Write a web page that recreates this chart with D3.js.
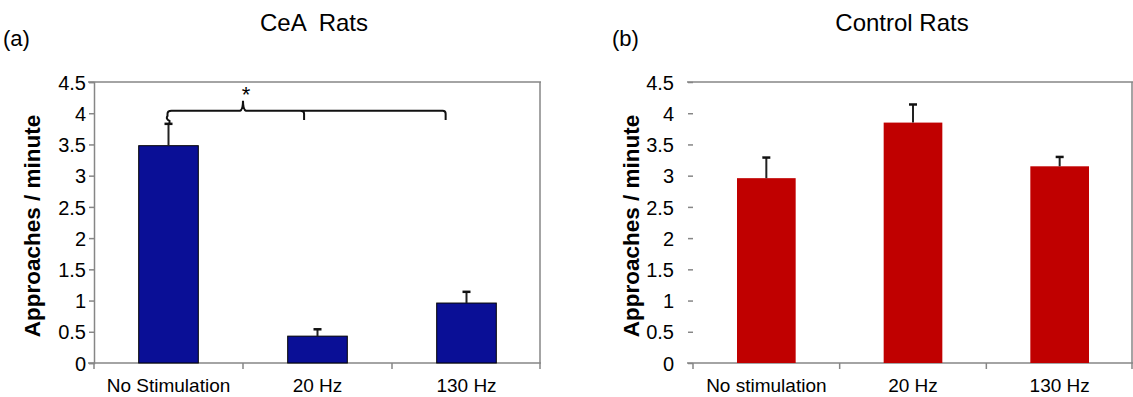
<!DOCTYPE html>
<html>
<head>
<meta charset="utf-8">
<script src="https://cdn.jsdelivr.net/npm/d3@7"></script>
<style>
  body { margin: 0; background: #fff; }
  svg { display: block; font-family: "Liberation Sans", Arial, sans-serif; }
</style>
</head>
<body>
<svg id="chart" width="1133" height="397"></svg>
<script>
// data
const ceaCategories = ["No Stimulation", "20 Hz", "130 Hz"];
const ceaMeans = [3.48, 0.43, 0.96];
const ceaErrors = [0.35, 0.11, 0.18];

const controlCategories = ["No stimulation", "20 Hz", "130 Hz"];
const controlMeans = [2.96, 3.85, 3.15];
const controlErrors = [0.33, 0.29, 0.15];

const yTicks = [0, 0.5, 1, 1.5, 2, 2.5, 3, 3.5, 4, 4.5];

const AXIS_GREY = "#868686";
const SVG = d3.select("#chart");

function drawPanel(opts) {
    const { cats, means, errs, color, outline, x0, x1, showYLine, title, titleX, tag, tagX, yTitleX, tickLabelX } = opts;
    const top = 82, bottom = 363;

    const x = d3.scaleBand().domain(cats).range([x0, x1]).padding(0);
    const y = d3.scaleLinear().domain([0, 4.5]).range([bottom, top]);
    const barW = x.bandwidth() * 0.4;

    const g = SVG.append("g");

    // frame: top border + right border
    g.append("line").attr("x1", x0 - 6).attr("x2", x1).attr("y1", top).attr("y2", top)
        .attr("stroke", AXIS_GREY).attr("stroke-width", 1.5);
    g.append("line").attr("x1", x1 - 1).attr("x2", x1 - 1).attr("y1", top).attr("y2", bottom + 6)
        .attr("stroke", AXIS_GREY).attr("stroke-width", 1.5);

    // y axis
    const yAxis = d3.axisLeft(y).tickValues(yTicks).tickSize(5).tickFormat(d => d);
    const ya = g.append("g").attr("transform", `translate(${x0},0)`).call(yAxis);
    ya.select(".domain").attr("stroke", showYLine ? AXIS_GREY : "none").attr("stroke-width", 1.5);
    ya.selectAll(".tick line").attr("stroke", AXIS_GREY).attr("stroke-width", 1.5);
    ya.selectAll(".tick text")
        .attr("x", tickLabelX - x0)
        .attr("dy", "0.36em")
        .attr("fill", "#000")
        .style("font-size", "20px")
        .style("font-family", "Liberation Sans, Arial, sans-serif");

    // x axis
    const xa = g.append("g").attr("transform", `translate(0,${bottom})`)
        .call(d3.axisBottom(x).tickSize(0).tickPadding(16));
    xa.select(".domain").attr("stroke", AXIS_GREY).attr("stroke-width", 1.5)
        .attr("d", `M${x0 - 6},0H${x1}`);
    xa.selectAll(".tick text")
        .attr("fill", "#000")
        .style("font-size", "19px")
        .style("font-family", "Liberation Sans, Arial, sans-serif");
    // category boundary ticks
    g.selectAll(".bound")
        .data(cats)
        .join("line")
        .attr("x1", d => x(d)).attr("x2", d => x(d))
        .attr("y1", bottom).attr("y2", bottom + 6)
        .attr("stroke", AXIS_GREY).attr("stroke-width", 1.5);

    // bars
    g.selectAll(".bar")
        .data(means)
        .join("rect")
        .attr("x", (d, i) => x(cats[i]) + x.bandwidth() / 2 - barW / 2)
        .attr("y", d => y(d))
        .attr("width", barW)
        .attr("height", d => y(0) - y(d))
        .attr("fill", color)
        .attr("stroke", outline)
        .attr("stroke-width", outline === "none" ? 0 : 1);

    // error bars (upper only)
    const err = g.selectAll(".err")
        .data(means.map((m, i) => ({ cat: cats[i], m, e: errs[i] })))
        .join("g");
    err.append("line")
        .attr("x1", d => x(d.cat) + x.bandwidth() / 2)
        .attr("x2", d => x(d.cat) + x.bandwidth() / 2)
        .attr("y1", d => y(d.m))
        .attr("y2", d => y(d.m + d.e))
        .attr("stroke", "#222").attr("stroke-width", 2);
    err.append("line")
        .attr("x1", d => x(d.cat) + x.bandwidth() / 2 - 4)
        .attr("x2", d => x(d.cat) + x.bandwidth() / 2 + 4)
        .attr("y1", d => y(d.m + d.e))
        .attr("y2", d => y(d.m + d.e))
        .attr("stroke", "#111").attr("stroke-width", 2.5);

    // titles
    SVG.append("text").attr("x", titleX).attr("y", 31).attr("text-anchor", "middle")
        .style("font-size", "24px").style("white-space", "pre").text(title);
    SVG.append("text").attr("x", tagX).attr("y", 46)
        .style("font-size", "22px").text(tag);
    SVG.append("text")
        .attr("transform", `translate(${yTitleX},226) rotate(-90)`)
        .attr("text-anchor", "middle")
        .attr("dy", "0.35em")
        .style("font-size", "22.5px").style("font-weight", "bold")
        .text("Approaches / minute");

    return { x, y, g };
}

const left = drawPanel({
    cats: ceaCategories, means: ceaMeans, errs: ceaErrors,
    color: "#0a0f96", outline: "#000",
    x0: 94, x1: 541, showYLine: true,
    title: "CeA  Rats", titleX: 314, tag: "(a)", tagX: 3, yTitleX: 32, tickLabelX: 86
});

drawPanel({
    cats: controlCategories, means: controlMeans, errs: controlErrors,
    color: "#c00000", outline: "none",
    x0: 693, x1: 1133, showYLine: false,
    title: "Control Rats", titleX: 902, tag: "(b)", tagX: 612, yTitleX: 631, tickLabelX: 674
});

// significance brace over the CeA panel
const bracketLevel = 4.04, bracketPeak = 4.2, hookEnd = 3.89;
{
    const { x, y, g } = left;
    const bw = x.bandwidth();
    const xa = x(ceaCategories[0]) + bw / 2;
    const xp = x(ceaCategories[1]);
    const xm = x(ceaCategories[1]) + 0.41 * bw;
    const xr = x(ceaCategories[2]) + 0.36 * bw;
    const yl = y(bracketLevel), yp = y(bracketPeak), yh = y(hookEnd);
    const ye = y(ceaMeans[0] + ceaErrors[0]);

    const p = d3.path();
    p.moveTo(xa + 1, ye);
    p.lineTo(xa + 1, ye - 3);
    p.quadraticCurveTo(xa - 3, ye - 5, xa - 1, ye - 8);
    p.lineTo(xa - 1, yl + 3);
    p.quadraticCurveTo(xa - 1, yl, xa + 3, yl);
    p.lineTo(xp - 3, yl);
    p.quadraticCurveTo(xp, yl - 1, xp, yp);
    p.quadraticCurveTo(xp, yl - 1, xp + 3, yl);
    p.lineTo(xr - 3, yl);
    p.quadraticCurveTo(xr, yl, xr, yl + 3);
    p.lineTo(xr, yh);
    p.moveTo(xm - 4, yl);
    p.quadraticCurveTo(xm, yl, xm, yl + 3);
    p.lineTo(xm, yh);

    g.append("path").attr("d", p.toString())
        .attr("fill", "none").attr("stroke", "#111").attr("stroke-width", 2);

    g.append("text").attr("x", xp + 3).attr("y", yp + 1)
        .attr("text-anchor", "middle")
        .style("font-size", "22px").text("*");
}
</script>
</body>
</html>
